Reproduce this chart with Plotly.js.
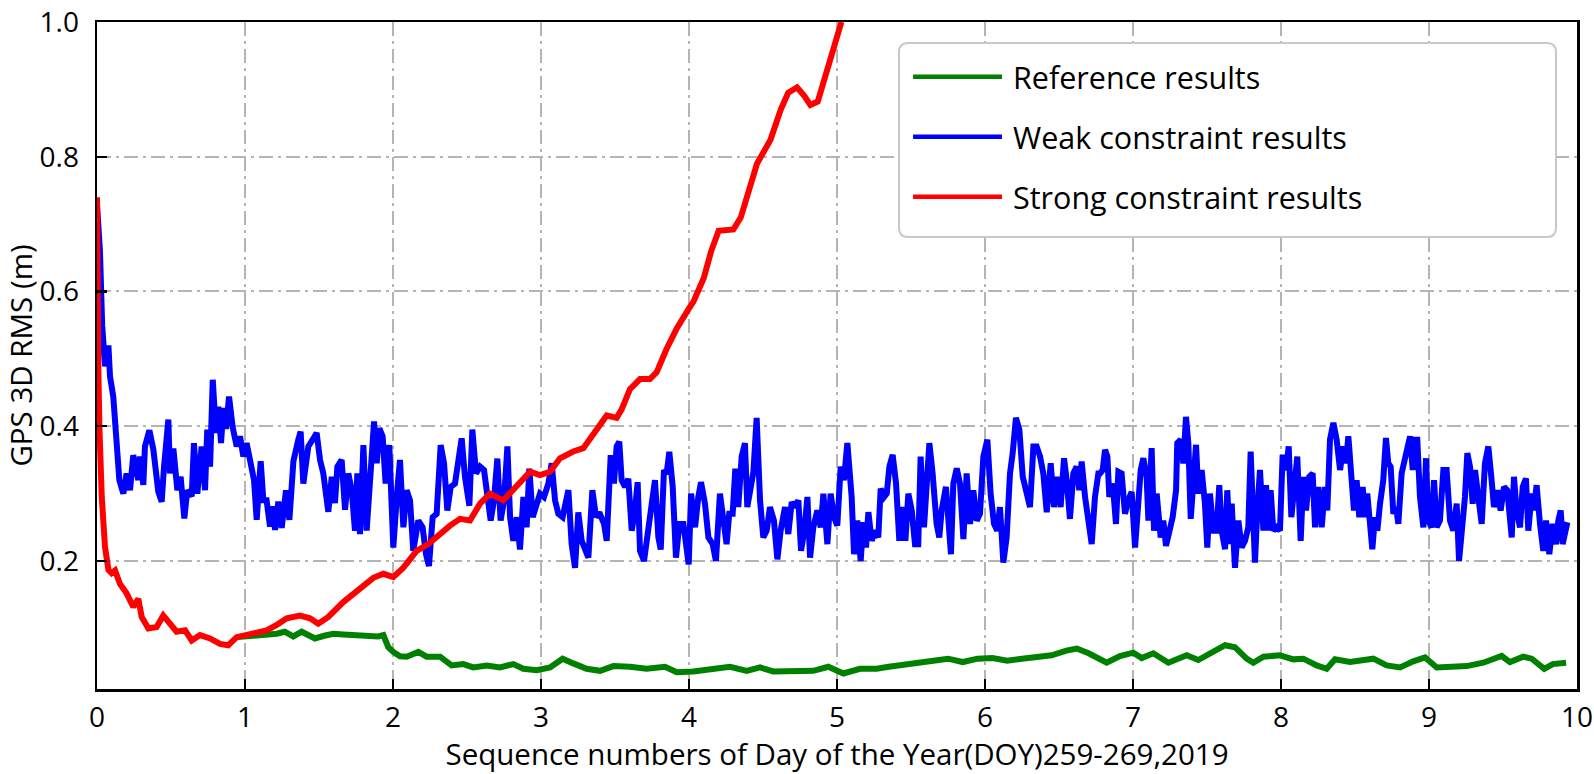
<!DOCTYPE html>
<html>
<head>
<meta charset="utf-8">
<script src="https://cdn.plot.ly/plotly-3.0.1.min.js"></script>
<style>html,body{margin:0;padding:0;background:#fff;}#chart{width:1594px;height:774px;}</style>
</head>
<body>
<div id="chart"></div>
<script>
// ---- data ----
const seriesNames = ["Reference results", "Weak constraint results", "Strong constraint results"];
const xTickVals = [0,1,2,3,4,5,6,7,8,9,10];
const yTickVals = [0.2,0.4,0.6,0.8,1.0];
const yTickText = ["0.2","0.4","0.6","0.8","1.0"];

const refX = [0.95,1.011,1.079,1.146,1.214,1.268,1.326,1.383,1.473,1.535,1.597,1.665,1.732,1.79,1.845,1.9,1.935,1.968,2.002,2.047,2.092,2.171,2.227,2.318,2.396,2.475,2.543,2.633,2.723,2.813,2.88,2.971,3.061,3.146,3.218,3.308,3.399,3.489,3.601,3.714,3.838,3.917,4.029,4.142,4.277,4.39,4.48,4.57,4.705,4.84,4.941,5.043,5.155,5.268,5.35,5.45,5.55,5.65,5.75,5.85,5.95,6.05,6.15,6.25,6.35,6.45,6.55,6.62,6.7,6.777,6.822,6.912,7.002,7.059,7.137,7.239,7.363,7.441,7.52,7.622,7.689,7.768,7.813,7.881,7.993,8.083,8.151,8.241,8.309,8.365,8.466,8.624,8.714,8.804,8.894,8.973,9.052,9.164,9.255,9.367,9.491,9.547,9.637,9.694,9.779,9.836,9.926];
const refY = [0.087,0.088,0.089,0.09,0.092,0.095,0.088,0.095,0.085,0.089,0.092,0.091,0.09,0.089,0.088,0.088,0.09,0.072,0.065,0.0585,0.058,0.065,0.058,0.058,0.045,0.047,0.042,0.045,0.042,0.047,0.04,0.038,0.042,0.055,0.048,0.04,0.037,0.044,0.043,0.04,0.043,0.035,0.036,0.04,0.043,0.037,0.042,0.036,0.036,0.037,0.043,0.033,0.04,0.04,0.043,0.046,0.049,0.052,0.055,0.05,0.055,0.056,0.052,0.055,0.058,0.06,0.067,0.07,0.063,0.053,0.049,0.059,0.064,0.056,0.063,0.049,0.06,0.053,0.063,0.075,0.072,0.055,0.049,0.058,0.06,0.054,0.055,0.045,0.04,0.054,0.05,0.055,0.045,0.042,0.051,0.057,0.042,0.042,0.044,0.049,0.059,0.05,0.058,0.055,0.04,0.047,0.049];

const weakX = [0,0.02,0.035,0.043,0.054,0.077,0.088,0.11,0.133,0.151,0.178,0.2,0.223,0.245,0.279,0.291,0.313,0.324,0.354,0.381,0.414,0.437,0.453,0.482,0.493,0.516,0.543,0.565,0.59,0.61,0.64,0.655,0.678,0.707,0.73,0.745,0.764,0.782,0.804,0.82,0.838,0.854,0.872,0.892,0.917,0.944,0.966,0.989,1.011,1.034,1.061,1.079,1.106,1.124,1.146,1.169,1.187,1.203,1.225,1.248,1.277,1.3,1.327,1.36,1.376,1.394,1.428,1.457,1.484,1.507,1.529,1.563,1.586,1.608,1.624,1.653,1.676,1.698,1.721,1.743,1.759,1.777,1.8,1.822,1.849,1.872,1.89,1.908,1.93,1.95,1.975,2.002,2.029,2.047,2.07,2.092,2.115,2.137,2.171,2.2,2.223,2.243,2.268,2.295,2.322,2.345,2.367,2.39,2.419,2.441,2.464,2.486,2.516,2.536,2.561,2.588,2.615,2.633,2.66,2.682,2.705,2.727,2.75,2.773,2.791,2.813,2.836,2.858,2.881,2.903,2.921,2.944,2.971,2.993,3.02,3.05,3.072,3.095,3.117,3.146,3.185,3.207,3.23,3.252,3.275,3.297,3.32,3.347,3.372,3.394,3.426,3.444,3.471,3.493,3.511,3.529,3.545,3.568,3.59,3.613,3.635,3.653,3.669,3.696,3.718,3.748,3.77,3.793,3.809,3.831,3.849,3.867,3.89,3.912,3.935,3.962,3.98,3.998,4.014,4.041,4.063,4.081,4.108,4.131,4.16,4.182,4.209,4.232,4.254,4.272,4.295,4.313,4.333,4.356,4.378,4.394,4.417,4.435,4.457,4.48,4.502,4.525,4.547,4.574,4.597,4.619,4.649,4.671,4.694,4.716,4.739,4.757,4.779,4.8,4.818,4.84,4.867,4.89,4.908,4.935,4.957,4.98,5.002,5.025,5.047,5.07,5.099,5.115,5.137,5.16,5.178,5.196,5.212,5.234,5.257,5.279,5.295,5.318,5.336,5.354,5.376,5.399,5.421,5.444,5.462,5.482,5.505,5.527,5.549,5.565,5.588,5.606,5.624,5.646,5.673,5.691,5.707,5.736,5.752,5.77,5.786,5.809,5.831,5.854,5.876,5.899,5.921,5.944,5.966,5.989,6.016,6.038,6.061,6.083,6.101,6.124,6.146,6.169,6.187,6.209,6.232,6.255,6.277,6.304,6.327,6.349,6.372,6.394,6.417,6.444,6.466,6.489,6.511,6.534,6.552,6.574,6.597,6.619,6.637,6.653,6.676,6.698,6.721,6.743,6.766,6.777,6.795,6.811,6.827,6.84,6.863,6.885,6.901,6.923,6.946,6.968,6.991,7.014,7.036,7.052,7.07,7.092,7.104,7.126,7.142,7.16,7.187,7.205,7.223,7.245,7.268,7.291,7.299,7.322,7.34,7.358,7.374,7.39,7.408,7.426,7.441,7.464,7.486,7.502,7.52,7.543,7.565,7.583,7.599,7.622,7.637,7.655,7.667,7.689,7.712,7.734,7.757,7.779,7.795,7.813,7.824,7.84,7.858,7.881,7.899,7.914,7.93,7.948,7.971,7.993,8.011,8.034,8.052,8.07,8.088,8.11,8.133,8.151,8.169,8.191,8.214,8.23,8.252,8.275,8.297,8.313,8.331,8.354,8.376,8.399,8.421,8.439,8.455,8.478,8.493,8.511,8.529,8.552,8.568,8.583,8.601,8.617,8.635,8.651,8.669,8.691,8.709,8.725,8.741,8.759,8.777,8.793,8.815,8.838,8.854,8.872,8.89,8.905,8.921,8.939,8.962,8.98,8.995,9.018,9.034,9.052,9.074,9.097,9.119,9.142,9.164,9.187,9.203,9.221,9.243,9.259,9.277,9.295,9.311,9.333,9.356,9.378,9.401,9.423,9.439,9.462,9.484,9.507,9.529,9.559,9.574,9.592,9.615,9.633,9.655,9.671,9.694,9.709,9.727,9.75,9.772,9.791,9.813,9.836,9.858,9.874,9.89,9.903,9.919,9.935];
const weakY = [0.73,0.66,0.55,0.523,0.489,0.52,0.474,0.444,0.38,0.32,0.3,0.33,0.305,0.357,0.32,0.355,0.313,0.37,0.394,0.365,0.303,0.288,0.34,0.41,0.33,0.367,0.305,0.325,0.263,0.305,0.296,0.375,0.3,0.37,0.305,0.395,0.34,0.469,0.39,0.429,0.375,0.427,0.396,0.444,0.398,0.37,0.385,0.355,0.375,0.345,0.32,0.261,0.348,0.29,0.29,0.251,0.281,0.246,0.288,0.249,0.305,0.261,0.348,0.38,0.392,0.315,0.37,0.38,0.39,0.35,0.33,0.273,0.325,0.286,0.34,0.35,0.276,0.33,0.305,0.245,0.33,0.24,0.372,0.245,0.33,0.407,0.345,0.397,0.385,0.315,0.372,0.22,0.305,0.35,0.25,0.305,0.29,0.215,0.26,0.25,0.21,0.1925,0.265,0.27,0.372,0.345,0.275,0.31,0.315,0.347,0.382,0.325,0.282,0.395,0.33,0.34,0.335,0.305,0.26,0.29,0.352,0.26,0.29,0.37,0.265,0.23,0.265,0.217,0.295,0.25,0.337,0.265,0.285,0.3,0.295,0.315,0.345,0.29,0.27,0.265,0.305,0.225,0.19,0.272,0.23,0.22,0.205,0.305,0.265,0.272,0.255,0.23,0.357,0.315,0.37,0.377,0.32,0.31,0.322,0.245,0.275,0.317,0.215,0.2,0.235,0.295,0.32,0.235,0.217,0.335,0.33,0.362,0.31,0.205,0.255,0.255,0.225,0.195,0.3,0.25,0.295,0.317,0.285,0.235,0.225,0.2,0.3,0.255,0.225,0.27,0.27,0.337,0.28,0.355,0.375,0.28,0.31,0.332,0.4125,0.29,0.235,0.245,0.28,0.26,0.2025,0.245,0.28,0.24,0.2875,0.28,0.29,0.215,0.245,0.295,0.205,0.25,0.275,0.25,0.3,0.225,0.3,0.265,0.2525,0.34,0.32,0.375,0.295,0.21,0.26,0.2,0.2575,0.22,0.2725,0.23,0.245,0.235,0.3075,0.295,0.3,0.34,0.3575,0.315,0.23,0.28,0.23,0.3,0.275,0.225,0.225,0.355,0.25,0.335,0.375,0.33,0.255,0.235,0.275,0.31,0.245,0.21,0.315,0.3375,0.315,0.2325,0.33,0.255,0.305,0.26,0.27,0.355,0.38,0.3,0.255,0.245,0.28,0.1975,0.235,0.33,0.36,0.4125,0.395,0.325,0.305,0.28,0.37,0.37,0.355,0.33,0.2725,0.345,0.28,0.325,0.28,0.3525,0.32,0.2625,0.33,0.34,0.305,0.3475,0.295,0.265,0.225,0.295,0.33,0.33,0.335,0.365,0.355,0.295,0.315,0.255,0.3325,0.33,0.27,0.29,0.3025,0.22,0.295,0.335,0.3525,0.325,0.26,0.3675,0.245,0.3,0.235,0.26,0.2225,0.245,0.265,0.305,0.375,0.38,0.345,0.414,0.375,0.2625,0.315,0.3725,0.3,0.335,0.285,0.22,0.3,0.245,0.245,0.3125,0.245,0.2175,0.305,0.225,0.285,0.19,0.26,0.22,0.23,0.25,0.3625,0.27,0.1975,0.275,0.335,0.245,0.3125,0.245,0.305,0.245,0.25,0.245,0.3575,0.335,0.37,0.265,0.305,0.355,0.23,0.325,0.275,0.325,0.33,0.25,0.31,0.25,0.31,0.275,0.38,0.405,0.38,0.335,0.37,0.345,0.385,0.325,0.275,0.32,0.265,0.31,0.265,0.3,0.265,0.2175,0.265,0.245,0.285,0.32,0.3825,0.345,0.34,0.27,0.28,0.255,0.33,0.355,0.37,0.385,0.335,0.38,0.38,0.295,0.25,0.3525,0.26,0.25,0.32,0.25,0.26,0.335,0.335,0.26,0.245,0.285,0.2,0.235,0.295,0.36,0.34,0.285,0.335,0.295,0.255,0.345,0.37,0.32,0.28,0.305,0.275,0.31,0.305,0.235,0.325,0.275,0.25,0.31,0.3225,0.245,0.3,0.275,0.3125,0.255,0.215,0.26,0.21,0.255,0.225,0.26,0.275,0.225,0.245,0.2575];

const strongX = [0,0.002,0.008,0.016,0.032,0.054,0.077,0.099,0.122,0.155,0.2,0.245,0.279,0.302,0.347,0.403,0.448,0.493,0.538,0.595,0.64,0.696,0.764,0.831,0.887,0.944,1.011,1.079,1.146,1.214,1.282,1.372,1.439,1.495,1.563,1.664,1.777,1.867,1.935,2.002,2.07,2.16,2.239,2.318,2.385,2.453,2.52,2.588,2.655,2.745,2.836,2.926,2.993,3.061,3.128,3.218,3.286,3.354,3.4,3.444,3.511,3.545,3.601,3.669,3.736,3.781,3.849,3.917,4.0,4.03,4.1,4.15,4.2,4.3,4.35,4.4,4.46,4.55,4.62,4.67,4.73,4.78,4.82,4.87,4.92,4.97,5.03];
const strongY = [0.74,0.6,0.5,0.4,0.296,0.221,0.187,0.182,0.186,0.166,0.152,0.132,0.144,0.117,0.1,0.102,0.119,0.107,0.095,0.097,0.082,0.09,0.085,0.077,0.075,0.087,0.09,0.093,0.097,0.105,0.115,0.119,0.115,0.107,0.117,0.139,0.159,0.175,0.181,0.176,0.19,0.215,0.225,0.24,0.2525,0.2625,0.26,0.285,0.3,0.29,0.31,0.3325,0.3275,0.3325,0.3525,0.3625,0.3675,0.39,0.405,0.416,0.4125,0.425,0.455,0.47,0.47,0.48,0.515,0.545,0.575,0.585,0.62,0.66,0.69,0.692,0.71,0.745,0.79,0.825,0.87,0.895,0.903,0.89,0.877,0.882,0.92,0.955,1.0];

// ---- styling ----
const colors = ["#008000", "#0000ff", "#ff0000"];
const FONT = "Open Sans, Noto Sans, sans-serif";
const LW = 6;

const traces = [
  {x: refX, y: refY, name: seriesNames[0]},
  {x: weakX, y: weakY, name: seriesNames[1]},
  {x: strongX, y: strongY, name: seriesNames[2]}
].map((t, i) => Object.assign(t, {
  type: "scatter", mode: "lines",
  line: {color: colors[i], width: LW, shape: "linear"},
  showlegend: false, hoverinfo: "skip"
}));

const plotW = 1480, plotH = 667;
const px = v => v / plotW, py = v => v / plotH;

// custom legend box (paper coordinates)
const L = {x0: 0.5419, x1: 0.9858, y0: 0.6777, y1: 0.9685};
const rx = px(9), ry = py(9);
const boxPath = `M ${L.x0 + rx} ${L.y1} L ${L.x1 - rx} ${L.y1} Q ${L.x1} ${L.y1} ${L.x1} ${L.y1 - ry} ` +
  `L ${L.x1} ${L.y0 + ry} Q ${L.x1} ${L.y0} ${L.x1 - rx} ${L.y0} L ${L.x0 + rx} ${L.y0} ` +
  `Q ${L.x0} ${L.y0} ${L.x0} ${L.y0 + ry} L ${L.x0} ${L.y1 - ry} Q ${L.x0} ${L.y1} ${L.x0 + rx} ${L.y1} Z`;
const rowY = [0.918, 0.828, 0.738];
const shapes = [{type: "path", xref: "paper", yref: "paper", path: boxPath,
  fillcolor: "#ffffff", line: {color: "#c8c8c8", width: 2}, layer: "above"}];
const annotations = [];
seriesNames.forEach((n, i) => {
  shapes.push({type: "line", xref: "paper", yref: "paper", x0: 0.5514, x1: 0.6115, y0: rowY[i], y1: rowY[i],
    line: {color: colors[i], width: 4.5}, layer: "above"});
  annotations.push({xref: "paper", yref: "paper", x: 0.6175, y: rowY[i], xanchor: "left", yanchor: "middle",
    text: n, showarrow: false, font: {family: FONT, size: 30.5, color: "#000"}});
});

const gridDash = "14px,5px,3px,5px";
const layout = {
  width: 1594, height: 774,
  margin: {l: 97, r: 17, t: 22, b: 85, pad: 0},
  paper_bgcolor: "#ffffff", plot_bgcolor: "#ffffff",
  font: {family: FONT, color: "#000"},
  xaxis: {
    range: [0, 10], tickvals: xTickVals, ticktext: xTickVals.map(String),
    showgrid: true, gridcolor: "#b4b4b4", gridwidth: 2, griddash: gridDash,
    showline: true, linecolor: "#000", linewidth: 2.5, mirror: true,
    ticks: "inside", ticklen: 10, tickwidth: 2.5, tickcolor: "#000",
    tickfont: {family: FONT, size: 28, color: "#000"},
    ticklabelstandoff: 2,
    zeroline: false,
    title: {text: "Sequence numbers of Day of the Year(DOY)259-269,2019", font: {family: FONT, size: 29.5, color: "#000"}, standoff: 6}
  },
  yaxis: {
    range: [0.01, 1.0], tickvals: yTickVals, ticktext: yTickText,
    showgrid: true, gridcolor: "#b4b4b4", gridwidth: 2, griddash: gridDash,
    showline: true, linecolor: "#000", linewidth: 2.5, mirror: true,
    ticks: "inside", ticklen: 10, tickwidth: 2.5, tickcolor: "#000",
    tickfont: {family: FONT, size: 28, color: "#000"},
    ticklabelstandoff: 10,
    zeroline: false,
    title: {text: "GPS 3D RMS (m)", font: {family: FONT, size: 29.5, color: "#000"}, standoff: 4}
  },
  shapes: shapes,
  annotations: annotations,
  showlegend: false
};

Plotly.newPlot("chart", traces, layout, {staticPlot: true, displayModeBar: false});
</script>
</body>
</html>
